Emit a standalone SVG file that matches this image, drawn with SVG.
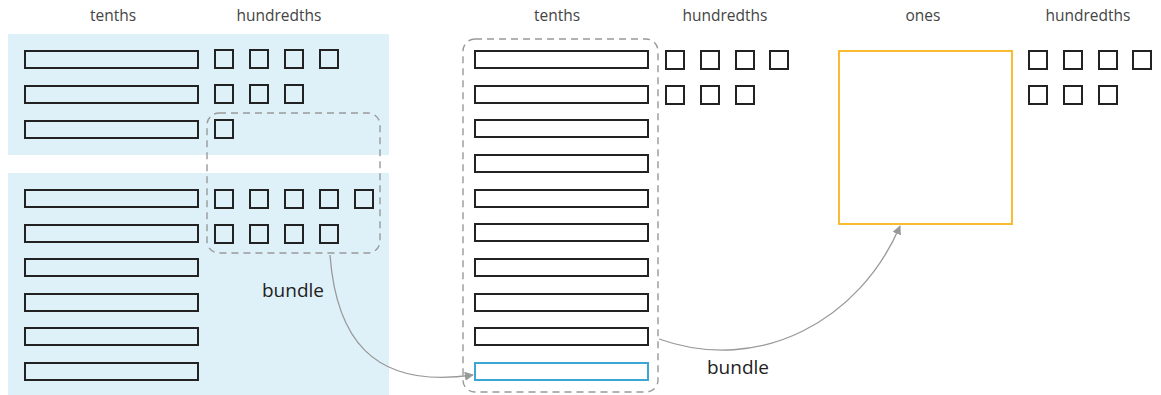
<svg xmlns="http://www.w3.org/2000/svg" width="1161" height="395" viewBox="0 0 1161 395">
  <style>
    .lbl { font-family: "Open Sans", "Liberation Sans", sans-serif; font-size: 15.5px; fill: #444; text-anchor: middle; }
    .big { font-family: "Open Sans", "Liberation Sans", sans-serif; font-size: 19px; fill: #222; }
    .panel { fill: #dff1f8; stroke: none; }
    .bar { fill: none; stroke: #222; stroke-width: 2; }
    .sq { fill: none; stroke: #222; stroke-width: 2; }
    .bundle { fill: none; stroke: #999; stroke-width: 1.4; stroke-dasharray: 7 5; }
    .conn { fill: none; stroke: #999; stroke-width: 1.3; }
  </style>
  <defs>
    <marker id="arrow" viewBox="0 0 10 10" refX="9" refY="5" markerWidth="7" markerHeight="7" orient="auto">
      <path d="M0,0 L10,5 L0,10 z" fill="#999"/>
    </marker>
    <rect id="tbar" width="173" height="17"/>
    <rect id="hsq" width="18" height="18"/>
  </defs>

  <rect width="1161" height="395" fill="#fff"/>

  <!-- column headings -->
  <g id="headings">
    <text class="lbl" x="113" y="21">tenths</text>
    <text class="lbl" x="279" y="21">hundredths</text>
    <text class="lbl" x="557" y="21">tenths</text>
    <text class="lbl" x="725" y="21">hundredths</text>
    <text class="lbl" x="923" y="21">ones</text>
    <text class="lbl" x="1088" y="21">hundredths</text>
  </g>

  <!-- first addend: 0.37 -->
  <g id="addend-top">
    <rect class="panel" x="8" y="34" width="381" height="121"/>
    <g class="bar">
      <use href="#tbar" x="25" y="51"/>
      <use href="#tbar" x="25" y="86"/>
      <use href="#tbar" x="25" y="121"/>
    </g>
    <g class="sq">
      <use href="#hsq" x="215" y="50"/><use href="#hsq" x="250" y="50"/><use href="#hsq" x="285" y="50"/><use href="#hsq" x="320" y="50"/>
      <use href="#hsq" x="215" y="85"/><use href="#hsq" x="250" y="85"/><use href="#hsq" x="285" y="85"/>
      <use href="#hsq" x="215" y="120"/>
    </g>
  </g>

  <!-- second addend: 0.69 -->
  <g id="addend-bottom">
    <rect class="panel" x="8" y="173" width="381" height="222"/>
    <g class="bar">
      <use href="#tbar" x="25" y="190"/>
      <use href="#tbar" x="25" y="225"/>
      <use href="#tbar" x="25" y="259"/>
      <use href="#tbar" x="25" y="294"/>
      <use href="#tbar" x="25" y="328"/>
      <use href="#tbar" x="25" y="363"/>
    </g>
    <g class="sq">
      <use href="#hsq" x="215" y="190"/><use href="#hsq" x="250" y="190"/><use href="#hsq" x="285" y="190"/><use href="#hsq" x="320" y="190"/><use href="#hsq" x="355" y="190"/>
      <use href="#hsq" x="215" y="225"/><use href="#hsq" x="250" y="225"/><use href="#hsq" x="285" y="225"/><use href="#hsq" x="320" y="225"/>
    </g>
  </g>

  <!-- ten hundredths grouped -->
  <g id="bundle-hundredths">
    <rect class="bundle" x="207" y="113" width="173" height="140" rx="12"/>
  </g>

  <!-- regrouped tenths -->
  <g id="tenths-column">
    <g class="bar">
      <use href="#tbar" x="475" y="51"/>
      <use href="#tbar" x="475" y="86"/>
      <use href="#tbar" x="475" y="120"/>
      <use href="#tbar" x="475" y="155"/>
      <use href="#tbar" x="475" y="190"/>
      <use href="#tbar" x="475" y="224"/>
      <use href="#tbar" x="475" y="259"/>
      <use href="#tbar" x="475" y="294"/>
      <use href="#tbar" x="475" y="328"/>
    </g>
    <rect x="475" y="363" width="173" height="17" fill="none" stroke="#3ca6d4" stroke-width="2"/>
  </g>
  <g id="hundredths-middle" class="sq">
    <use href="#hsq" x="666" y="51"/><use href="#hsq" x="701" y="51"/><use href="#hsq" x="736" y="51"/><use href="#hsq" x="770" y="51"/>
    <use href="#hsq" x="666" y="86"/><use href="#hsq" x="701" y="86"/><use href="#hsq" x="736" y="86"/>
  </g>
  <g id="bundle-tenths">
    <rect class="bundle" x="463" y="39" width="195" height="353" rx="12"/>
  </g>

  <!-- result: ones and hundredths -->
  <g id="ones">
    <rect x="839" y="51" width="173" height="173" fill="none" stroke="#f8bb32" stroke-width="2"/>
  </g>
  <g id="hundredths-right" class="sq">
    <use href="#hsq" x="1029" y="51"/><use href="#hsq" x="1064" y="51"/><use href="#hsq" x="1099" y="51"/><use href="#hsq" x="1133" y="51"/>
    <use href="#hsq" x="1029" y="86"/><use href="#hsq" x="1064" y="86"/><use href="#hsq" x="1099" y="86"/>
  </g>

  <!-- regrouping arrows -->
  <g id="connectors">
    <path class="conn" d="M330,255 C336,335 370,390 473,375" marker-end="url(#arrow)"/>
    <path class="conn" d="M659,339 C760,375 860,320 900,226" marker-end="url(#arrow)"/>
  </g>
  <g id="connector-labels">
    <text class="big" x="262" y="297">bundle</text>
    <text class="big" x="707" y="374">bundle</text>
  </g>
</svg>
